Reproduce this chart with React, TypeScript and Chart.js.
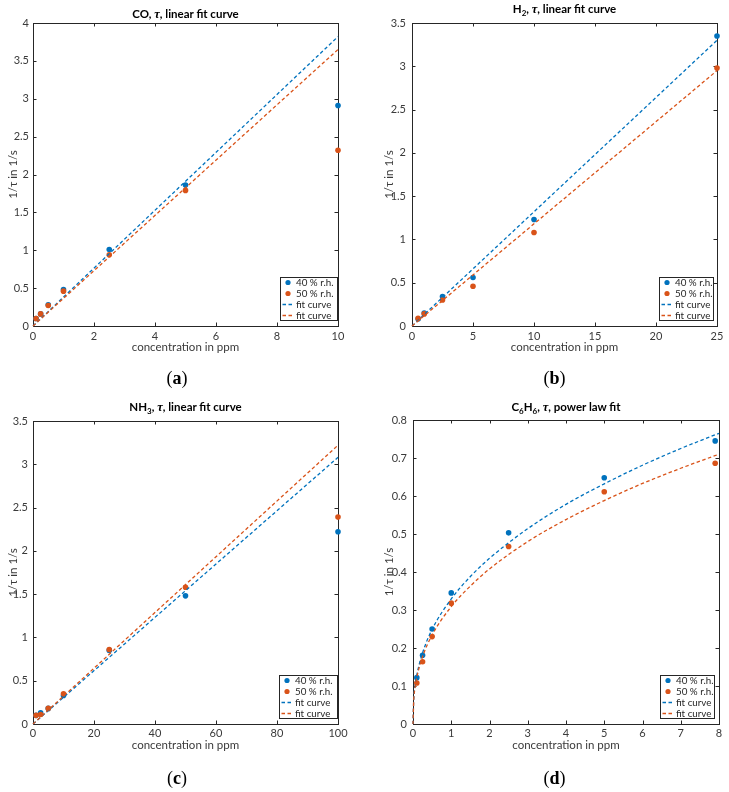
import React, { useEffect, useRef } from "react";
import { Chart, registerables } from "chart.js";

Chart.register(...registerables);

const BLUE = "#0072BD";
const ORANGE = "#D95319";
const AXIS = "#262626";
const LABEL = "#3a3a3a";
const FONT = "Lato, 'Noto Sans', sans-serif";

// ---------- (a) CO ----------
const coConc = [0.1, 0.25, 0.5, 1, 2.5, 5, 10];
const coRh40 = [0.1, 0.16, 0.28, 0.48, 1.01, 1.86, 2.91];
const coRh50 = [0.1, 0.16, 0.27, 0.46, 0.94, 1.79, 2.32];
const coFitConc = [0, 10];
const coFit40 = [0, 3.82];
const coFit50 = [0, 3.65];
const coXTicks = [0, 2, 4, 6, 8, 10];
const coYTicks = [0, 0.5, 1, 1.5, 2, 2.5, 3, 3.5, 4];

// ---------- (b) H2 ----------
const h2Conc = [0.5, 1, 2.5, 5, 10, 25];
const h2Rh40 = [0.08, 0.15, 0.34, 0.56, 1.23, 3.35];
const h2Rh50 = [0.09, 0.14, 0.3, 0.46, 1.08, 2.98];
const h2FitConc = [0, 25];
const h2Fit40 = [0, 3.3];
const h2Fit50 = [0, 2.95];
const h2XTicks = [0, 5, 10, 15, 20, 25];
const h2YTicks = [0, 0.5, 1, 1.5, 2, 2.5, 3, 3.5];

// ---------- (c) NH3 ----------
const nh3Conc = [1, 2.5, 5, 10, 25, 50, 100];
const nh3Rh40 = [0.1, 0.13, 0.18, 0.33, 0.85, 1.48, 2.22];
const nh3Rh50 = [0.1, 0.11, 0.18, 0.35, 0.86, 1.58, 2.39];
const nh3FitConc = [0, 100];
const nh3Fit40 = [0, 3.08];
const nh3Fit50 = [0, 3.22];
const nh3XTicks = [0, 20, 40, 60, 80, 100];
const nh3YTicks = [0, 0.5, 1, 1.5, 2, 2.5, 3, 3.5];

// ---------- (d) C6H6 ----------
const c6h6Conc = [0.1, 0.25, 0.5, 1, 2.5, 5, 7.9];
const c6h6Rh40 = [0.122, 0.181, 0.25, 0.345, 0.503, 0.648, 0.745];
const c6h6Rh50 = [0.108, 0.164, 0.23, 0.318, 0.467, 0.611, 0.686];
const c6h6FitConc = [0, 0.02, 0.05, 0.1, 0.25, 0.5, 1, 1.5, 2, 3, 4, 5, 6, 7, 8];
const c6h6Fit40 = [0, 0.067, 0.098, 0.129, 0.187, 0.249, 0.329, 0.388, 0.436, 0.514, 0.578, 0.632, 0.681, 0.725, 0.765];
const c6h6Fit50 = [0, 0.065, 0.093, 0.123, 0.177, 0.234, 0.309, 0.363, 0.408, 0.48, 0.538, 0.588, 0.633, 0.673, 0.71];
const c6h6XTicks = [0, 1, 2, 3, 4, 5, 6, 7, 8];
const c6h6YTicks = [0, 0.1, 0.2, 0.3, 0.4, 0.5, 0.6, 0.7, 0.8];

const legendLabels = ["40 % r.h.", "50 % r.h.", "fit curve", "fit curve"];
const xAxisTitle = "concentration in ppm";
const yAxisTitle = "1/\u03C4 in 1/s";

type Box = {
  left: number; top: number; width: number; height: number;
  plotL: number; plotT: number; plotR: number; plotB: number;
  xPad: number; yPad: number; yTitleX: number;
};

const boxPlugin = {
  id: "matlabBox",
  beforeDatasetsDraw(chart: any) {
    const { ctx, chartArea: a } = chart;
    const xs = chart.scales.x;
    const ys = chart.scales.y;
    const len = 3.5;
    ctx.save();
    ctx.strokeStyle = AXIS;
    ctx.lineWidth = 1;
    ctx.beginPath();
    for (const t of xs.ticks) {
      const p = Math.round(xs.getPixelForValue(t.value)) + 0.5;
      ctx.moveTo(p, a.bottom);
      ctx.lineTo(p, a.bottom - len);
      ctx.moveTo(p, a.top);
      ctx.lineTo(p, a.top + len);
    }
    for (const t of ys.ticks) {
      const p = Math.round(ys.getPixelForValue(t.value)) + 0.5;
      ctx.moveTo(a.left, p);
      ctx.lineTo(a.left + len, p);
      ctx.moveTo(a.right, p);
      ctx.lineTo(a.right - len, p);
    }
    ctx.stroke();
    ctx.strokeRect(a.left + 0.5, a.top + 0.5, a.right - a.left, a.bottom - a.top);
    ctx.restore();
  },
};

const fmt = (v: number) => String(Math.round(v * 100) / 100);

function Panel(props: {
  box: Box; xMax: number; yMax: number; xTicks: number[]; yTicks: number[];
  conc: number[]; rh40: number[]; rh50: number[];
  fitConc: number[]; fit40: number[]; fit50: number[]; smooth?: boolean;
}) {
  const ref = useRef<HTMLCanvasElement>(null);
  useEffect(() => {
    const b = props.box;
    const pts = (xs: number[], ys: number[]) => xs.map((x, i) => ({ x, y: ys[i] }));
    const XH = 28;
    const chart = new Chart(ref.current as HTMLCanvasElement, {
      type: "scatter",
      data: {
        datasets: [
          {
            label: legendLabels[0], data: pts(props.conc, props.rh40),
            backgroundColor: BLUE, borderColor: BLUE, borderWidth: 0, pointRadius: 2.8,
            order: 3, clip: false,
          } as any,
          {
            label: legendLabels[1], data: pts(props.conc, props.rh50),
            backgroundColor: ORANGE, borderColor: ORANGE, borderWidth: 0, pointRadius: 2.8,
            order: 2, clip: false,
          } as any,
          {
            label: legendLabels[2], data: pts(props.fitConc, props.fit40), showLine: true,
            borderColor: BLUE, borderWidth: 1.3, borderDash: [3.5, 2.5], pointRadius: 0,
            cubicInterpolationMode: props.smooth ? "monotone" : "default",
            order: 1, clip: false,
          } as any,
          {
            label: legendLabels[3], data: pts(props.fitConc, props.fit50), showLine: true,
            borderColor: ORANGE, borderWidth: 1.3, borderDash: [3.5, 2.5], pointRadius: 0,
            cubicInterpolationMode: props.smooth ? "monotone" : "default",
            order: 0, clip: false,
          } as any,
        ],
      },
      options: {
        animation: false,
        responsive: false,
        devicePixelRatio: 1,
        layout: {
          padding: {
            left: 0,
            top: b.plotT - b.top,
            right: b.left + b.width - b.plotR,
            bottom: b.top + b.height - b.plotB - XH,
          },
        },
        plugins: {
          legend: { display: false },
          tooltip: { enabled: false },
          title: { display: false },
        },
        scales: {
          x: {
            type: "linear", min: 0, max: props.xMax,
            afterBuildTicks: (s: any) => { s.ticks = props.xTicks.map((v) => ({ value: v })); },
            afterFit: (s: any) => { s.height = XH; s.paddingLeft = 0; s.paddingRight = 0; },
            grid: { display: false, drawTicks: false },
            border: { display: false },
            ticks: {
              padding: b.xPad, color: LABEL, font: { family: FONT, size: 11 },
              maxRotation: 0, autoSkip: false, callback: (v: any) => fmt(Number(v)),
            },
            title: {
              display: true, text: xAxisTitle, color: LABEL,
              font: { family: FONT, size: 11.5 }, padding: { top: 0, bottom: 0 },
            },
          },
          y: {
            type: "linear", min: 0, max: props.yMax,
            afterBuildTicks: (s: any) => { s.ticks = props.yTicks.map((v) => ({ value: v })); },
            afterFit: (s: any) => { s.width = b.plotL - b.left; s.paddingTop = 0; s.paddingBottom = 0; },
            grid: { display: false, drawTicks: false },
            border: { display: false },
            ticks: {
              padding: b.yPad, color: LABEL, font: { family: FONT, size: 11 },
              autoSkip: false, callback: (v: any) => fmt(Number(v)),
            },
            title: {
              display: true, text: yAxisTitle, color: LABEL,
              font: { family: FONT, size: 11.5 }, padding: { top: b.yTitleX - 6.9, bottom: 0 },
            },
          },
        },
      } as any,
      plugins: [boxPlugin],
    });
    return () => chart.destroy();
  }, []);
  const b = props.box;
  return (
    <canvas
      ref={ref}
      width={b.width}
      height={b.height}
      style={{ position: "absolute", left: b.left, top: b.top, width: b.width, height: b.height }}
    />
  );
}

function Legend({ left, top, width }: { left: number; top: number; width: number }) {
  const rows = [
    { dot: true, color: BLUE },
    { dot: true, color: ORANGE },
    { dot: false, color: BLUE },
    { dot: false, color: ORANGE },
  ];
  return (
    <div
      style={{
        position: "absolute", left, top, width, height: 44, boxSizing: "border-box",
        border: `1px solid ${AXIS}`, background: "#fff",
      }}
    >
      {rows.map((r, i) => (
        <div
          key={i}
          style={{
            position: "absolute", left: 0, top: i * 11 - 0.8, height: 11, width: "100%",
            display: "flex", alignItems: "center",
          }}
        >
          <svg width={15} height={11} style={{ display: "block", flex: "none" }}>
            {r.dot ? (
              <circle cx={7} cy={5.5} r={2.6} fill={r.color} />
            ) : (
              <line x1={1.5} x2={12.5} y1={5.5} y2={5.5} stroke={r.color} strokeWidth={1.3} strokeDasharray="3.5 2.5" />
            )}
          </svg>
          <span style={{ fontFamily: FONT, fontSize: 9.8, lineHeight: "11px", color: AXIS, whiteSpace: "nowrap" }}>
            {legendLabels[i]}
          </span>
        </div>
      ))}
    </div>
  );
}

const subStyle: React.CSSProperties = { fontSize: 8, verticalAlign: "baseline", position: "relative", top: 3, lineHeight: 0 };
const tauStyle: React.CSSProperties = { fontFamily: "'Liberation Serif', serif", fontStyle: "italic", fontSize: 12.5 };

function Title({ l, r, baseline, children }: { l: number; r: number; baseline: number; children: React.ReactNode }) {
  return (
    <div
      style={{
        position: "absolute", left: l - 40, width: r - l + 80, top: baseline - 11, height: 14,
        fontFamily: FONT, fontSize: 11.5, fontWeight: "bold", lineHeight: "14px",
        textAlign: "center", color: "#000", whiteSpace: "nowrap",
      }}
    >
      {children}
    </div>
  );
}

function Caption({ cx, top, letter }: { cx: number; top: number; letter: string }) {
  return (
    <div
      style={{
        position: "absolute", left: cx - 30, width: 60, top, height: 20,
        fontFamily: "'Liberation Serif', serif", fontSize: 18, lineHeight: "20px",
        textAlign: "center", color: "#000",
      }}
    >
      (<b>{letter}</b>)
    </div>
  );
}

const boxA: Box = { left: 0, top: 0, width: 364, height: 396, plotL: 33, plotT: 23, plotR: 338, plotB: 326, xPad: 4, yPad: 4, yTitleX: 13 };
const boxB: Box = { left: 364, top: 0, width: 365, height: 396, plotL: 412, plotT: 23, plotR: 717, plotB: 326, xPad: 4, yPad: 6, yTitleX: 25 };
const boxC: Box = { left: 0, top: 396, width: 364, height: 396, plotL: 33, plotT: 421, plotR: 338, plotB: 724, xPad: 3, yPad: 5, yTitleX: 13 };
const boxD: Box = { left: 364, top: 396, width: 365, height: 396, plotL: 413, plotT: 420, plotR: 719, plotB: 724, xPad: 3, yPad: 6, yTitleX: 25 };

export default function App() {
  return (
    <div style={{ position: "absolute", left: 0, top: 0, width: 729, height: 792, background: "#fff", overflow: "hidden" }}>
      <Panel box={boxA} xMax={10} yMax={4} xTicks={coXTicks} yTicks={coYTicks}
        conc={coConc} rh40={coRh40} rh50={coRh50} fitConc={coFitConc} fit40={coFit40} fit50={coFit50} />
      <Panel box={boxB} xMax={25} yMax={3.5} xTicks={h2XTicks} yTicks={h2YTicks}
        conc={h2Conc} rh40={h2Rh40} rh50={h2Rh50} fitConc={h2FitConc} fit40={h2Fit40} fit50={h2Fit50} />
      <Panel box={boxC} xMax={100} yMax={3.5} xTicks={nh3XTicks} yTicks={nh3YTicks}
        conc={nh3Conc} rh40={nh3Rh40} rh50={nh3Rh50} fitConc={nh3FitConc} fit40={nh3Fit40} fit50={nh3Fit50} />
      <Panel box={boxD} xMax={8} yMax={0.8} xTicks={c6h6XTicks} yTicks={c6h6YTicks}
        conc={c6h6Conc} rh40={c6h6Rh40} rh50={c6h6Rh50} fitConc={c6h6FitConc} fit40={c6h6Fit40} fit50={c6h6Fit50} smooth />

      <Title l={33} r={338} baseline={17.5}>CO, <span style={tauStyle}>τ</span>, linear fit curve</Title>
      <Title l={412} r={717} baseline={12.7}>H<span style={subStyle}>2</span>, <span style={tauStyle}>τ</span>, linear fit curve</Title>
      <Title l={33} r={338} baseline={410.5}>NH<span style={subStyle}>3</span>, <span style={tauStyle}>τ</span>, linear fit curve</Title>
      <Title l={413} r={719} baseline={411}>C<span style={subStyle}>6</span>H<span style={subStyle}>6</span>, <span style={tauStyle}>τ</span>, power law fit</Title>

      <Legend left={280} top={277} width={58} />
      <Legend left={659} top={277} width={55} />
      <Legend left={279} top={675} width={59} />
      <Legend left={660} top={675} width={55} />

      <Caption cx={177} top={368} letter="a" />
      <Caption cx={554.5} top={368} letter="b" />
      <Caption cx={177} top={768} letter="c" />
      <Caption cx={554.5} top={768} letter="d" />
    </div>
  );
}
